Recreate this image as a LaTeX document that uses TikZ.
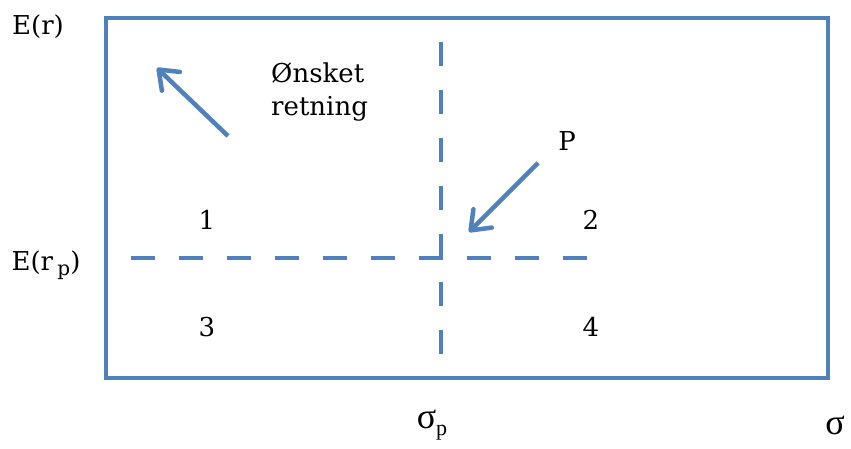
\documentclass[tikz,border=0pt]{standalone}
\usepackage{fontspec}
\setmainfont{DejaVu Serif}
\newfontfamily\symfont{Liberation Serif}
\usetikzlibrary{arrows.meta}
\definecolor{pblue}{HTML}{4F81BD}
\begin{document}
\begin{tikzpicture}[x=1pt,y=-1pt,
  frame/.style={draw=pblue,line width=4pt},
  dline/.style={draw=pblue,line width=4pt,dash pattern=on 24pt off 24pt},
  arr/.style={draw=pblue,line width=4.5pt,-{Straight Barb[length=17pt,width=26pt,line cap=round,round]}},
  lab/.style={font=\fontsize{26}{33}\selectfont,inner sep=0pt},
  greek/.style={font=\symfont\fontsize{36}{40}\selectfont,inner sep=0pt}]
\useasboundingbox (0,0) rectangle (851,448);
\draw[frame] (106,18) rectangle (828,378);
% dashed lines
\coordinate (vtop) at (441,42);
\coordinate (vbot) at (441,354);
\coordinate (hleft) at (131,258);
\coordinate (hright) at (587,258);
\draw[dline] (vtop) -- (vbot);
\draw[dline] (hleft) -- (hright);
% arrows
\coordinate (a1s) at (228,136);
\coordinate (a1e) at (157,68);
\draw[arr] (a1s) -- (a1e);
\coordinate (a2s) at (538,163);
\coordinate (a2e) at (469,232);
\draw[arr] (a2s) -- (a2e);
% labels
\node[lab] (er) at (38,27) {E(r)};
\node[lab,align=left,anchor=west] (onsk) at (271,92) {Ønsket\\retning};
\node[lab] (p) at (567,141) {P};
\node[lab] (q1) at (207,220) {1};
\node[lab] (q2) at (591,220) {2};
\node[lab] (q3) at (207,327) {3};
\node[lab] (q4) at (591,327) {4};
\node[lab] (erp) at (46,265) {E(r\,\raisebox{-5pt}{\fontsize{20}{22}\selectfont p})};
\node[greek] (sp) at (432,425) {σ\raisebox{-7pt}{\fontsize{22}{24}\selectfont p}};
\node[greek] (s) at (835,425) {σ};
\end{tikzpicture}
\end{document}
